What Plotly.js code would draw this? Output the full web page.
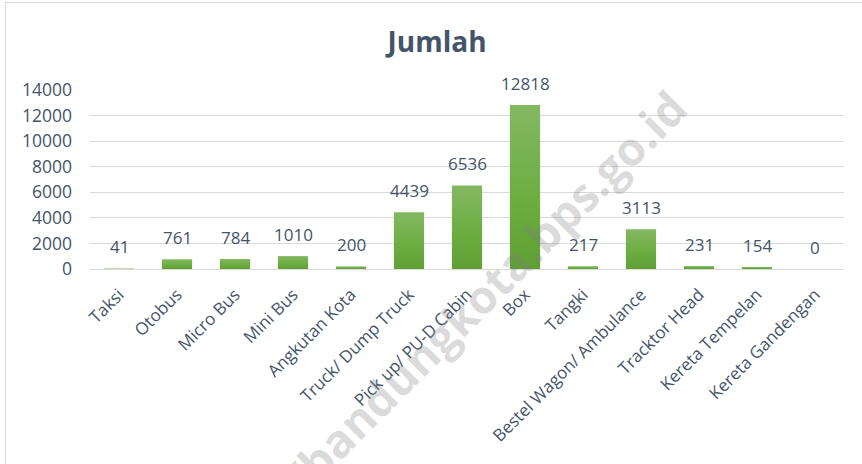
<!DOCTYPE html>
<html>
<head>
<meta charset="utf-8">
<script src="https://cdn.plot.ly/plotly-3.0.1.min.js"></script>
<style>
  html, body { margin: 0; padding: 0; background: #ffffff; overflow: hidden; }
  #wrap { position: relative; width: 862px; height: 464px; }
  #frame { position: absolute; left: 5px; top: 2px; width: 900px; height: 500px; border: 1px solid #d9d9d9; box-sizing: border-box; pointer-events: none; }
  #chart { position: absolute; left: 0; top: 0; width: 862px; height: 464px; }
</style>
</head>
<body>
<div id="wrap">
  <div id="frame"></div>
  <div id="chart"></div>
</div>
<script>
const categories = ["Taksi", "Otobus", "Micro Bus", "Mini Bus", "Angkutan Kota", "Truck/ Dump Truck",
  "Pick up/ PU-D Cabin", "Box", "Tangki", "Bestel Wagon/ Ambulance", "Tracktor Head",
  "Kereta Tempelan", "Kereta Gandengan"];
const values = [41, 761, 784, 1010, 200, 4439, 6536, 12818, 217, 3113, 231, 154, 0];
const yTicks = [0, 2000, 4000, 6000, 8000, 10000, 12000, 14000];
const chartTitle = "Jumlah";
const watermark = "https://bandungkota.bps.go.id";

const textColor = "#44546A";
const font = "'Open Sans', sans-serif";

const trace = {
  type: "bar",
  x: categories,
  y: values,
  marker: { color: "#6cac42", line: { width: 0 } },
  hoverinfo: "x+y"
};

const labelAnnotations = categories.map((c, i) => ({
  x: c, y: values[i], xref: "x", yref: "y",
  text: String(values[i]), showarrow: false,
  yanchor: "bottom", yshift: 8,
  font: { family: font, size: 17, color: textColor }
}));

const layout = {
  width: 862, height: 464,
  paper_bgcolor: "rgba(0,0,0,0)", plot_bgcolor: "rgba(0,0,0,0)",
  margin: { l: 90, r: 18, t: 90, b: 195 },
  bargap: 0.48,
  showlegend: false,
  title: {
    text: "<b>" + chartTitle + "</b>",
    x: 0.507, xref: "container", xanchor: "center",
    y: 0.909, yref: "container", yanchor: "middle",
    font: { family: font, size: 28, color: textColor }
  },
  xaxis: {
    type: "category",
    tickangle: -45,
    tickfont: { family: font, size: 17, color: textColor },
    showgrid: false, zeroline: false,
    showline: true, linecolor: "#d9d9d9", linewidth: 1,
    ticks: "", ticklabelstandoff: 8,
    automargin: false
  },
  yaxis: {
    range: [0, 14000],
    tickvals: yTicks,
    ticktext: yTicks.map(String),
    tickfont: { family: font, size: 17.5, color: textColor },
    showgrid: true, gridcolor: "#d9d9d9", gridwidth: 1,
    zeroline: false, showline: false, ticks: "",
    ticklabelstandoff: 17,
    automargin: false
  },
  annotations: labelAnnotations.concat([{
    text: "<b>" + watermark + "</b>",
    xref: "paper", yref: "paper",
    x: (702 - 90) / 754, y: (269 - 74) / 179,
    xanchor: "right", yanchor: "top",
    showarrow: false, textangle: -45,
    font: { family: font, size: 46, color: "rgba(128,128,128,0.28)" }
  }])
};

Plotly.newPlot("chart", [trace], layout, { displayModeBar: false, staticPlot: true }).then(gd => {
  // vertical gradient fill on bars (lighter top, darker bottom), as in the reference
  const svg = gd.querySelector(".main-svg");
  const NS = "http://www.w3.org/2000/svg";
  let defs = svg.querySelector("defs");
  if (!defs) { defs = document.createElementNS(NS, "defs"); svg.insertBefore(defs, svg.firstChild); }
  const grad = document.createElementNS(NS, "linearGradient");
  grad.setAttribute("id", "barGrad");
  grad.setAttribute("x1", "0"); grad.setAttribute("y1", "0");
  grad.setAttribute("x2", "0"); grad.setAttribute("y2", "1");
  [["0%", "#84b862"], ["55%", "#6dae42"], ["100%", "#5f9f33"]].forEach(([o, c]) => {
    const s = document.createElementNS(NS, "stop");
    s.setAttribute("offset", o); s.setAttribute("stop-color", c);
    grad.appendChild(s);
  });
  defs.appendChild(grad);
  gd.querySelectorAll(".barlayer .point path").forEach(p => {
    p.style.fill = "url(#barGrad)";
  });
});
</script>
</body>
</html>
